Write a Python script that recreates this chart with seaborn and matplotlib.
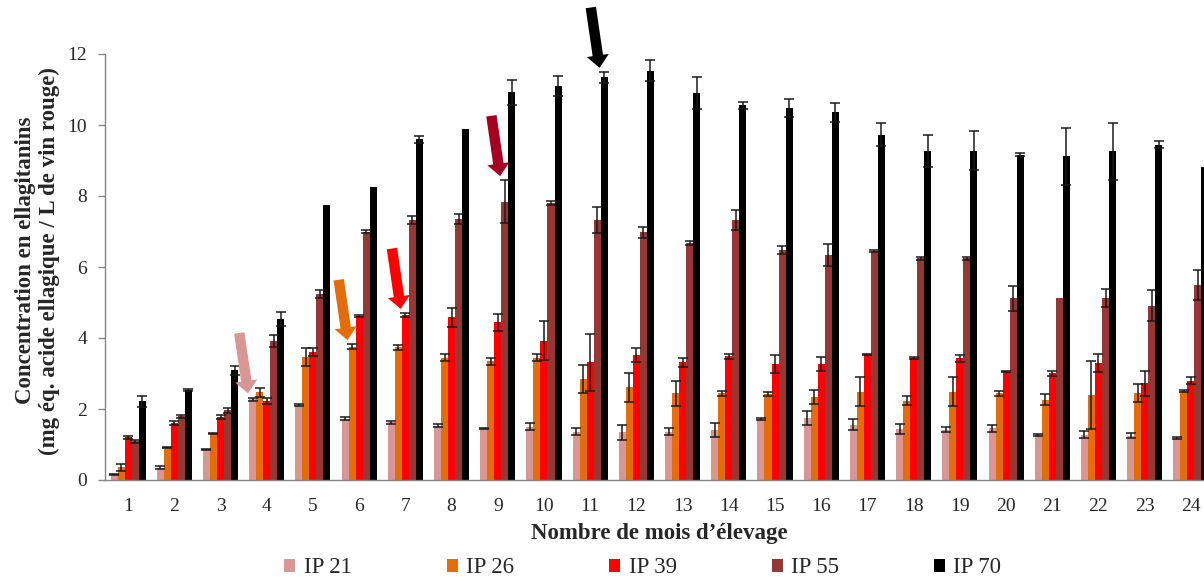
import matplotlib
matplotlib.use("Agg")
import matplotlib.pyplot as plt
import seaborn as sns
import pandas as pd
import numpy as np

# mois d'élevage
months = [str(m) for m in range(1, 25)]
series = ["IP 21", "IP 26", "IP 39", "IP 55", "IP 70"]
colors = ["#DA9694", "#E46C0A", "#FF0000", "#953735", "#000000"]

ip21 = [0.16, 0.35, 0.86, 2.27, 2.11, 1.73, 1.62, 1.53, 1.45, 1.50, 1.36, 1.34,
        1.36, 1.41, 1.72, 1.74, 1.56, 1.44, 1.42, 1.46, 1.27, 1.28, 1.25, 1.18]
ip21_err = [0.02, 0.05, 0.02, 0.05, 0.02, 0.05, 0.05, 0.05, 0.02, 0.10, 0.10, 0.20,
            0.10, 0.20, 0.02, 0.20, 0.15, 0.15, 0.07, 0.10, 0.02, 0.10, 0.07, 0.02]

ip26 = [0.36, 0.92, 1.31, 2.47, 3.46, 3.75, 3.74, 3.45, 3.34, 3.45, 2.84, 2.61,
        2.44, 2.44, 2.42, 2.33, 2.49, 2.23, 2.49, 2.45, 2.26, 2.39, 2.45, 2.51]
ip26_err = [0.10, 0.02, 0.02, 0.12, 0.25, 0.07, 0.07, 0.10, 0.10, 0.10, 0.40, 0.40,
            0.35, 0.07, 0.05, 0.20, 0.40, 0.13, 0.40, 0.07, 0.15, 0.95, 0.25, 0.03]

ip39 = [1.20, 1.60, 1.77, 2.22, 3.61, 4.62, 4.65, 4.58, 4.44, 3.92, 3.31, 3.53,
        3.31, 3.48, 3.27, 3.27, 3.53, 3.44, 3.43, 3.05, 3.01, 3.29, 2.73, 2.80]
ip39_err = [0.05, 0.05, 0.05, 0.08, 0.12, 0.02, 0.05, 0.27, 0.25, 0.55, 0.80, 0.20,
            0.12, 0.07, 0.25, 0.20, 0.02, 0.02, 0.10, 0.02, 0.07, 0.25, 0.35, 0.10]

ip55 = [1.09, 1.79, 1.97, 3.92, 5.24, 7.00, 7.32, 7.35, 7.84, 7.80, 7.33, 6.98,
        6.67, 7.33, 6.48, 6.34, 6.44, 6.24, 6.24, 5.12, 5.13, 5.13, 4.91, 5.49]
ip55_err = [0.05, 0.05, 0.07, 0.17, 0.10, 0.05, 0.12, 0.15, 0.60, 0.05, 0.37, 0.15,
            0.05, 0.28, 0.10, 0.30, 0.03, 0.03, 0.03, 0.35, 0.00, 0.25, 0.43, 0.43]

ip70 = [2.22, 2.53, 3.09, 4.54, 7.75, 8.26, 9.60, 9.89, 10.92, 11.10, 11.34, 11.53,
        10.90, 10.56, 10.48, 10.36, 9.73, 9.28, 9.28, 9.16, 9.12, 9.26, 9.44, 8.83]
ip70_err = [0.15, 0.03, 0.12, 0.20, 0.00, 0.00, 0.10, 0.00, 0.35, 0.28, 0.15, 0.30,
            0.45, 0.10, 0.25, 0.27, 0.33, 0.45, 0.55, 0.04, 0.80, 0.80, 0.10, 0.00]

# flèches : (mois, série, couleur)
arrows = [("4", "IP 21", "#DA9694"), ("6", "IP 26", "#E46C0A"), ("7", "IP 39", "#FF0000"),
          ("9", "IP 55", "#A50021"), ("11", "IP 70", "#000000")]

values = [ip21, ip26, ip39, ip55, ip70]
errors = [ip21_err, ip26_err, ip39_err, ip55_err, ip70_err]

df = pd.DataFrame({
    "mois": months * len(series),
    "serie": np.repeat(series, len(months)),
    "conc": np.concatenate(values),
    "err": np.concatenate(errors),
})

sns.set_style("white")
plt.rcParams["font.family"] = ["Liberation Serif", "DejaVu Serif"]

fig = plt.figure(figsize=(12.04, 5.77), dpi=100)
ax = fig.add_axes([105 / 1204, 97 / 577, 1109 / 1204, 426 / 577])

sns.barplot(data=df, x="mois", y="conc", hue="serie", order=months, hue_order=series,
            palette=colors, width=0.76, errorbar=None, saturation=1, linewidth=0, ax=ax)

# barres d'erreur
centers = {}
for s, cont, vals, errs in zip(series, ax.containers, values, errors):
    xs = np.array([b.get_x() + b.get_width() / 2 for b in cont])
    centers[s] = xs
    vals = np.array(vals)
    errs = np.array(errs)
    m = errs > 0
    ax.errorbar(xs[m], vals[m], yerr=errs[m], fmt="none", ecolor="#1a1a1a",
                elinewidth=1.1, capsize=3.5, capthick=1.1, zorder=3)

# flèches
for mois, s, c in arrows:
    i = months.index(mois)
    k = series.index(s)
    tip_x = centers[s][i] - 0.1
    tip_y = values[k][i] + errors[k][i] + 0.12
    ax.annotate("", xy=(tip_x, tip_y), xytext=(tip_x - 0.19, tip_y + 1.7),
                arrowprops=dict(arrowstyle="simple,head_length=9,head_width=16,tail_width=7.5",
                                mutation_scale=1, color=c, lw=0, shrinkA=0, shrinkB=0),
                annotation_clip=False, zorder=5)

ax.set_ylim(0, 12)
ax.set_xlim(-0.5, 23.5)
ax.set_yticks(np.arange(0, 13, 2))
ax.set_xticks(np.arange(-0.5, 24, 1), minor=True)

for side in ["top", "right"]:
    ax.spines[side].set_visible(False)
for side in ["left", "bottom"]:
    ax.spines[side].set_color("#868686")
    ax.spines[side].set_linewidth(1.0)

ax.tick_params(axis="x", which="major", length=0, pad=13, labelsize=14)
ax.tick_params(axis="x", which="minor", length=5, color="#868686", width=1)
ax.tick_params(axis="y", length=5, color="#868686", width=1, pad=8, labelsize=14, left=True)

ax.set_xlabel("Nombre de mois d\u2019élevage", fontsize=16.5, fontweight="bold")
ax.xaxis.set_label_coords(0.5, -0.1)
ax.set_ylabel("Concentration en ellagitanins\n(mg éq. acide ellagique / L de vin rouge)",
              fontsize=16.5, fontweight="bold", linespacing=1.15)
ax.yaxis.set_label_coords(-0.041, 0.515)

sns.move_legend(ax, "center", bbox_to_anchor=(0.534, 0.0156), bbox_transform=fig.transFigure,
                ncol=5, title=None, frameon=False, fontsize=16.5, handlelength=0.48,
                handleheight=0.48, handletextpad=0.37, columnspacing=4.14)

fig.savefig("out.png", dpi=100)
